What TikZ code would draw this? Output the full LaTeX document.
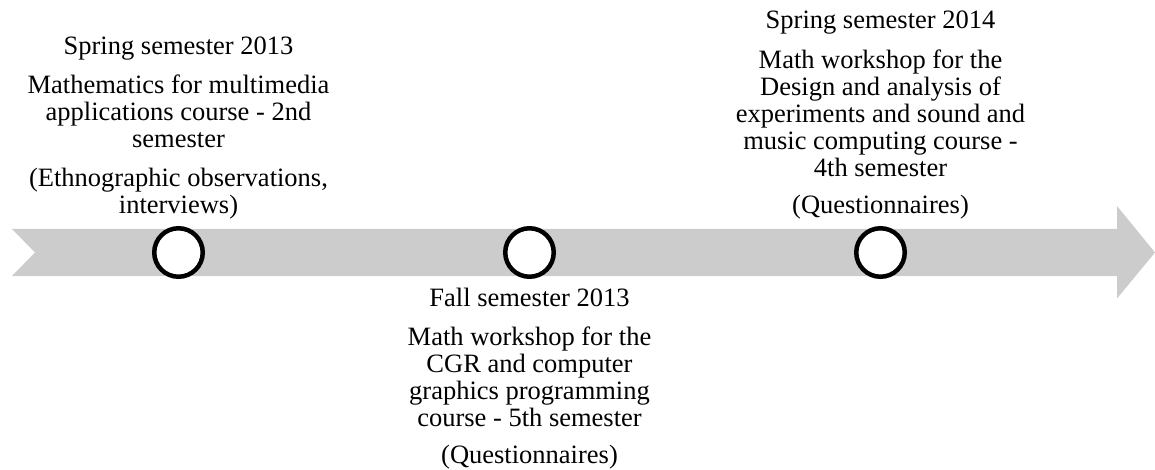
\documentclass[tikz,border=0pt]{standalone}
\usepackage{fontspec}
\setmainfont{Liberation Serif}
\usetikzlibrary{positioning}
\definecolor{bandgray}{HTML}{CCCCCC}

\begin{document}
\begin{tikzpicture}[x=1pt, y=-1pt,
    milestone/.style={circle, draw, fill=white, line width=4.5pt, minimum size=48.5pt, inner sep=0pt},
    caption/.style={align=center, inner sep=0pt, font=\fontsize{26.5}{27}\selectfont}
    ]
    \useasboundingbox (0,0) rectangle (1155,470);
    % time band
    \fill[bandgray] (12,229) -- (1117,229) -- (1117,206) -- (1155,252.5) -- (1117,298.5)
      -- (1117,276) -- (12,276) -- (35,252.5) -- cycle;
    \node[milestone] (c1) at (178.5,252.5) {};
    \node[milestone] (c2) at (529.5,252.5) {};
    \node[milestone] (c3) at (880.5,252.5) {};
    % spring 2013
    \node[caption, above=4pt of c1] (m1) {\strut(Ethnographic observations,\\ interviews)\strut};
    \node[caption, above=12pt of m1] (b1) {\strut Mathematics for multimedia\\ applications course - 2nd\\ semester\strut};
    \node[caption, above=11.5pt of b1] (t1) {\strut Spring semester 2013};
    % fall 2013
    \node[caption, below=8pt of c2] (t2) {\strut Fall semester 2013};
    \node[caption, below=12pt of t2] (b2) {\strut Math workshop for the\\ CGR and computer\\ graphics programming\\ course - 5th semester\strut};
    \node[caption, below=10pt of b2] (m2) {\strut(Questionnaires)};
    % spring 2014
    \node[caption, above=4pt of c3] (m3) {\strut(Questionnaires)};
    \node[caption, above=10pt of m3] (b3) {\strut Math workshop for the\\ Design and analysis of\\ experiments and sound and\\ music computing course -\\ 4th semester\strut};
    \node[caption, above=12pt of b3] (t3) {\strut Spring semester 2014};
\end{tikzpicture}
\end{document}
